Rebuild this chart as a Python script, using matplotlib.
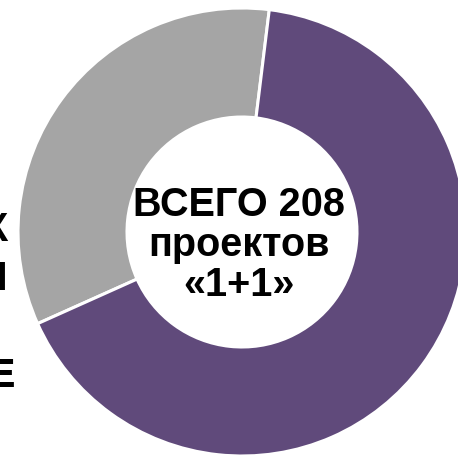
import matplotlib
matplotlib.use("Agg")
import matplotlib.pyplot as plt

# Data
labels = ["Прочие", "Основные"]
values = [70, 138]
colors = ["#A5A5A5", "#604A7B"]
center_text = "ВСЕГО 208\nпроектов\n«1+1»"
left_fragments = ["К", "Н", "Е"]

plt.rcParams['font.family'] = ['Liberation Sans', 'DejaVu Sans']

W, H = 458, 456
fig = plt.figure(figsize=(W / 100, H / 100), dpi=100)
ax = fig.add_axes([0, 0, 1, 1])

R_px = 224.0
cx, cy = 242.0, 456.0 - 233.0
ax.pie(values, colors=colors, startangle=83, counterclock=True,
       radius=1.0, wedgeprops=dict(width=1 - 115 / 224, edgecolor="white", linewidth=2.2))
ax.set_xlim(-cx / R_px, (W - cx) / R_px)
ax.set_ylim(-cy / R_px, (H - cy) / R_px)
ax.set_aspect('equal')
ax.axis('off')

ax.text(-3 / R_px, -12 / R_px, center_text, ha='center', va='center',
        fontsize=28.5, fontweight='bold', linespacing=1.08, color='black')

# Cut-off label fragments at the left edge
frag_pos = [(7, 241), (7, 290), (15, 387)]
for s, (x, y) in zip(left_fragments, frag_pos):
    fig.text(x / W, 1 - y / H, s, ha='right', va='baseline',
             fontsize=28.5, fontweight='bold', color='black')

fig.savefig("out.png", dpi=100)
